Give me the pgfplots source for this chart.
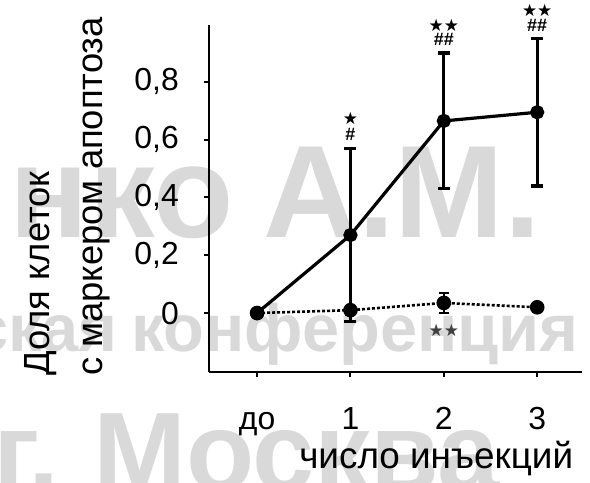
\documentclass[border=0pt]{standalone}
\usepackage{pgfplots}
\pgfplotsset{compat=1.18}
\usepackage{fontspec}
\setmainfont{Liberation Sans}
\newfontfamily\symfont{DejaVu Sans}
\begin{document}
\begin{tikzpicture}[x=1bp,y=1bp]
\useasboundingbox (0,0) rectangle (590,483);
% watermark
\begin{scope}[every node/.style={text=black!15, inner sep=0}]
\node[anchor=base east, font=\bfseries\fontsize{132}{134}\selectfont] at (234,245) {нко};
\node[anchor=base west, font=\bfseries\fontsize{132}{134}\selectfont] at (263,245) {А.М.};
\node[anchor=base east, font=\bfseries\fontsize{67}{69}\selectfont] at (118,131) {ская};
\node[anchor=base west, font=\bfseries\fontsize{67}{69}\selectfont] at (131,131) {конференция};
\node[anchor=base east, font=\bfseries\fontsize{112}{114}\selectfont] at (60,-8) {г.};
\node[anchor=base west, font=\bfseries\fontsize{112}{114}\selectfont] at (93,-8) {Москва};
\end{scope}
\begin{axis}[
  at={(209bp,111bp)}, anchor=south west,
  scale only axis, width=373bp, height=347bp,
  xmin=-0.515, xmax=3.48, ymin=-0.204, ymax=0.997,
  axis x line=bottom, axis y line=left,
  axis line style={-, line width=2.8bp, black},
  clip=false,
  xtick={0,1,2,3}, xticklabels={до,1,2,3},
  ytick={0,0.2,0.4,0.6,0.8},
  tick align=outside, major tick length=5bp,
  tick style={line width=2bp, black},
  /pgf/number format/.cd, use comma, fixed, precision=1, assume math mode=true,
  /pgfplots/.cd,
  yticklabel style={font=\fontsize{32}{38}\selectfont, inner sep=0, anchor=east, xshift=-25bp},
  xticklabel style={font=\fontsize{32}{38}\selectfont, inner sep=0, anchor=base, yshift=-53bp},
  ylabel={Доля клеток\\с маркером апоптоза},
  ylabel style={align=left, font=\fontsize{36.5}{53}\selectfont, inner sep=0,
    at={(rel axis cs:-0.495,-0.0115)}, anchor=north west},
  xlabel={число инъекций},
  xlabel style={font=\fontsize{37}{40}\selectfont, inner sep=0,
    at={(rel axis cs:0.609,-0.277)}, anchor=base},
]
\addplot[black, line width=3.2bp, mark=*, mark size=5.5bp,
  error bars/.cd, y dir=both, y explicit,
  error bar style={line width=3.2bp, solid},
  error mark options={rotate=90, line width=3.2bp, mark size=6bp}]
  coordinates {(0,0) +- (0,0) (1,0.27) +- (0,0.30) (2,0.665) +- (0,0.235) (3,0.695) +- (0,0.255)};
\addplot[black, line width=2.6bp, dash pattern=on 3bp off 2bp, mark=*, mark size=6bp, mark options={solid},
  error bars/.cd, y dir=both, y explicit,
  error bar style={line width=2.6bp, solid},
  error mark options={rotate=90, line width=2.6bp, mark size=5bp}]
  coordinates {(0,0) +- (0,0) (1,0.01) +- (0,0.015) (2,0.035) +- (0,0.035) (3,0.02) +- (0,0.015)};
% significance marks
\node[font=\symfont\fontsize{17}{17}\selectfont] at (axis cs:1,0.672) {★};
\node[font=\bfseries\fontsize{18}{18}\selectfont] at (axis cs:1,0.618) {\#};
\node[font=\symfont\fontsize{17}{17}\selectfont, inner sep=0] at (axis cs:2,0.994) {★★};
\node[font=\bfseries\fontsize{18}{18}\selectfont, inner sep=0] at (axis cs:2,0.947) {\#\#};
\node[font=\symfont\fontsize{17}{17}\selectfont, inner sep=0] at (axis cs:3,1.046) {★★};
\node[font=\bfseries\fontsize{18}{18}\selectfont, inner sep=0] at (axis cs:3,0.994) {\#\#};
\node[font=\symfont\fontsize{17}{17}\selectfont, text=black!75, inner sep=0] at (axis cs:2,-0.059) {★★};
\end{axis}
\end{tikzpicture}
\end{document}
